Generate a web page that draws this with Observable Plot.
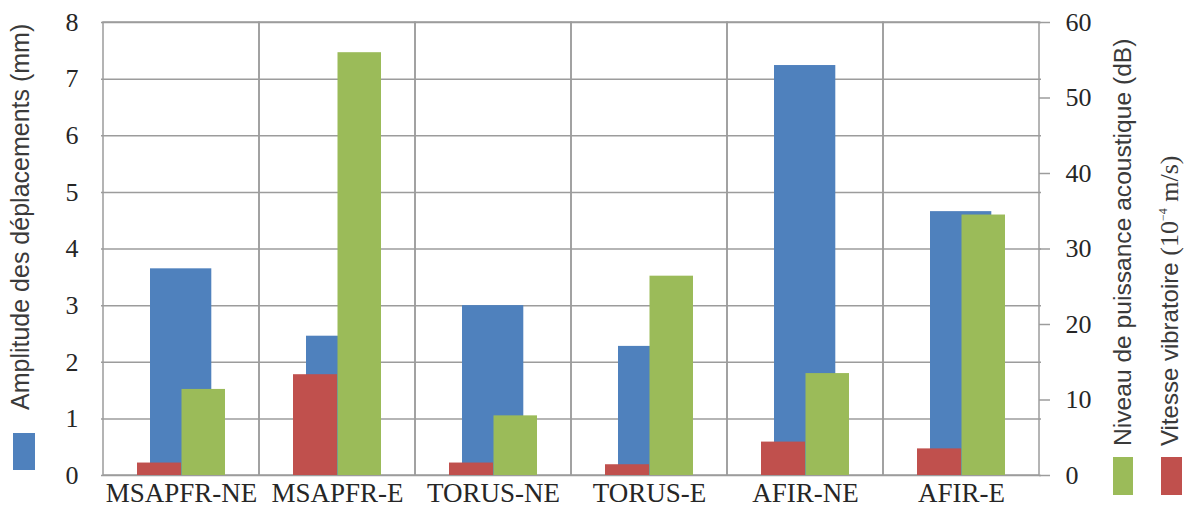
<!DOCTYPE html>
<html><head><meta charset="utf-8">
<script src="https://cdn.jsdelivr.net/npm/d3@7"></script>
<script src="https://cdn.jsdelivr.net/npm/@observablehq/plot@0.6"></script>
<style>body{margin:0;background:#fff}</style>
</head><body><div id="chart"></div>
<script>
const categories = ["MSAPFR-NE","MSAPFR-E","TORUS-NE","TORUS-E","AFIR-NE","AFIR-E"];
const amplitude = [3.65, 2.46, 3.0, 2.28, 7.24, 4.66];   // mm (left axis)
const vitesse   = [0.22, 1.78, 0.22, 0.19, 0.59, 0.47];  // 10^-4 m/s (left axis)
const niveau    = [11.4, 56.0, 7.9, 26.4, 13.5, 34.5];   // dB (right axis)
const leftTicks  = [0,1,2,3,4,5,6,7,8];
const rightTicks = [0,10,20,30,40,50,60];
const leftMax = 8, rightMax = 60;

const cBlue = "#4F81BD", cRed = "#C0504D", cGreen = "#9BBB59", cGrid = "#9c9c9c";
const serif = "'Liberation Serif', 'Times New Roman', serif";
const sans = "'Liberation Sans', Arial, sans-serif";
const dbToLeft = v => v * leftMax / rightMax;
const rows = categories.map((c,i)=>({cat:c, amp:amplitude[i], vit:vitesse[i], db:niveau[i]}));

const plot = Plot.plot({
  width:1190, height:520,
  marginLeft:101, marginRight:149, marginTop:22, marginBottom:45,
  x:{domain:categories, padding:0, label:null, axis:null},
  y:{domain:[0,leftMax], label:null, axis:null},
  style:{fontFamily:serif, fontSize:"26px", color:"#262626", background:"#fff"},
  marks:[
    Plot.ruleY(leftTicks, {stroke:cGrid, strokeWidth:1.5}),
    Plot.barY(categories, {x:d=>d, y1:0, y2:leftMax, fill:"none", stroke:cGrid, strokeWidth:1.5}),
    Plot.barY(rows, {x:"cat", y:"amp", fill:cBlue, insetLeft:47, insetRight:47.7}),
    Plot.barY(rows, {x:"cat", y:"vit", fill:cRed, insetLeft:34, insetRight:78}),
    Plot.barY(rows, {x:"cat", y:d=>dbToLeft(d.db), fill:cGreen, insetLeft:78.5, insetRight:34}),
    Plot.axisY(leftTicks, {anchor:"left", tickSize:0, tickPadding:23, label:null, fontSize:26,
      fontFamily:serif, tickFormat:d=>String(d)}),
    Plot.axisY(rightTicks.map(dbToLeft), {anchor:"right", tickSize:11, dx:-3, label:null,
      tickFormat:()=>"", stroke:cGrid, strokeWidth:1.5}),
    Plot.text(rightTicks, {y:dbToLeft, frameAnchor:"right", dx:24, textAnchor:"start",
      text:d=>String(d), fontSize:26, fontFamily:serif, fill:"#262626"}),
    Plot.axisX(categories, {tickSize:0, tickPadding:7, label:null, fontSize:27, fontFamily:serif})
  ]
});
document.getElementById("chart").appendChild(plot);

const svg = d3.select(plot);
svg.selectAll("text").style("font-family", serif);
function vlabel(x, y, text, size){
  return svg.append("text")
    .attr("transform", `translate(${x},${y}) rotate(-90)`)
    .style("font-family", sans).attr("font-size", size).attr("fill", "#3a3a3a")
    .attr("text-anchor", "start").text(text);
}
svg.append("rect").attr("x",13).attr("y",433).attr("width",22).attr("height",37).attr("fill",cBlue);
vlabel(29, 410, "Amplitude des déplacements (mm)", 25);
svg.append("rect").attr("x",1113).attr("y",457).attr("width",20).attr("height",38).attr("fill",cGreen);
vlabel(1131, 446, "Niveau de puissance acoustique (dB)", 24.6);
svg.append("rect").attr("x",1161).attr("y",457).attr("width",21).attr("height",38).attr("fill",cRed);
const v = vlabel(1178, 446, null, 25);
v.append("tspan").attr("font-size", 24).text("Vitesse vibratoire ");
v.append("tspan").style("font-family", serif).attr("font-size", 26).text("(10");
v.append("tspan").style("font-family", serif).attr("font-size", 12).attr("dy", -11).text("\u22124");
v.append("tspan").style("font-family", serif).attr("font-size", 26).attr("dy", 11).text(" m/s)");
</script>
</body></html>
